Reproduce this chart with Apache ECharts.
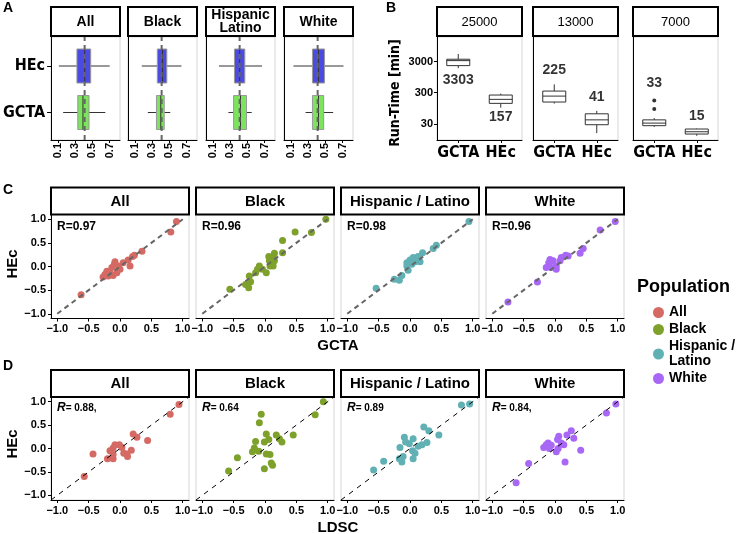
<!DOCTYPE html>
<html><head><meta charset="utf-8">
<script src="https://cdn.jsdelivr.net/npm/echarts@6/dist/echarts.min.js"></script>
<style>html,body{margin:0;padding:0;background:#fff}#main{width:737px;height:534px}</style>
</head><body><div id="main"></div>
<script>
// ---------------- DATA ----------------
const populations = ['All', 'Black', 'Hispanic / Latino', 'White'];
const stripLabelsA = ['All', 'Black', 'Hispanic\nLatino', 'White'];
const methodsA = ['GCTA', 'HEc'];
// Panel A boxplots: [min, Q1, median, Q3, max]
const gctaBoxA = [
  [0.16, 0.33, 0.39, 0.46, 0.65],
  [0.25, 0.35, 0.40, 0.44, 0.51],
  [0.28, 0.34, 0.42, 0.49, 0.55],
  [0.27, 0.35, 0.42, 0.48, 0.59]
];
const hecBoxA = [
  [0.11, 0.32, 0.41, 0.48, 0.70],
  [0.18, 0.36, 0.42, 0.47, 0.64],
  [0.17, 0.35, 0.41, 0.47, 0.67],
  [0.13, 0.35, 0.42, 0.49, 0.71]
];
const refLineA = 0.41;
const ticksA = [0.1, 0.3, 0.5, 0.7];

// Panel B: run-time in minutes [min, Q1, median, Q3, max]
const sampleSizes = ['25000', '13000', '7000'];
const methodsB = ['GCTA', 'HEc'];
const gctaRunTime = [[1840, 2230, 3230, 3580, 5300], [134, 150, 233, 338, 555], [23.8, 26, 31.5, 40, 45.6]];
const hecRunTime = [[99, 136, 183, 252, 279], [15, 27.9, 40, 62.7, 78], [12.3, 14, 16.6, 20.3, 21]];
const gctaOutliers = [[], [], [89, 167]];
const gctaMeanRT = [3303, 225, 33];
const hecMeanRT = [157, 41, 15];
const gctaMeanLabelAt = [775, 1556, 619];
const hecMeanLabelAt = [48.5, 212, 51];
const ticksB = [30, 300, 3000];
const rangeB = [9, 18600];

// Panel C: [GCTA, HEc]
const gctaVsHec = [
  [[0.90,0.95],[0.81,0.73],[0.35,0.32],[0.23,0.24],[0.20,0.21],[0.13,0.14],[0.16,0.01],[0.05,0.08],[-0.08,0.10],[-0.03,0.01],[-0.13,-0.02],[-0.21,-0.10],[-0.24,-0.17],[-0.19,-0.20],[-0.11,-0.19],[-0.05,-0.13],[-0.27,-0.22],[-0.16,-0.13],[0.00,-0.06],[-0.62,-0.60],[-0.09,0.05],[-0.20,-0.15]],
  [[0.97,1.00],[0.48,0.73],[0.74,0.72],[0.28,0.55],[0.28,0.29],[0.15,0.28],[0.13,0.21],[0.06,0.21],[0.07,0.12],[0.15,0.12],[0.08,0.01],[-0.09,0.01],[-0.12,-0.06],[-0.04,-0.06],[-0.15,-0.13],[0.02,-0.13],[0.13,0.01],[-0.25,-0.20],[-0.23,-0.32],[-0.31,-0.38],[-0.26,-0.45],[-0.56,-0.48]],
  [[0.94,0.95],[0.42,0.45],[0.37,0.38],[0.20,0.29],[0.13,0.21],[0.11,0.15],[0.05,0.19],[0.00,0.14],[-0.05,0.08],[-0.05,0.01],[0.03,0.05],[-0.03,-0.08],[-0.13,-0.19],[-0.17,-0.29],[-0.25,-0.27],[-0.54,-0.46],[0.16,0.10],[0.08,0.10]],
  [[0.96,0.95],[0.72,0.77],[0.45,0.38],[0.40,0.28],[0.21,0.22],[0.17,0.24],[0.10,0.19],[0.08,0.12],[0.02,0.01],[-0.03,0.12],[-0.08,0.15],[-0.10,0.08],[-0.14,-0.02],[-0.06,-0.02],[0.02,-0.06],[-0.28,-0.33],[-0.75,-0.75]]
];
const rGcta = ['0.97', '0.96', '0.98', '0.96'];

// Panel D: [LDSC, HEc]
const ldscVsHec = [
  [[0.94,0.94],[0.80,0.73],[0.21,0.31],[0.27,0.24],[0.44,0.17],[0.18,-0.04],[0.11,-0.12],[0.12,-0.17],[0.06,-0.10],[0.03,0.02],[-0.01,0.08],[-0.08,0.08],[-0.11,0.01],[-0.16,-0.05],[-0.11,-0.13],[-0.11,-0.22],[-0.20,-0.22],[-0.43,-0.12],[-0.57,-0.60]],
  [[0.93,1.00],[0.80,0.72],[0.45,0.29],[0.18,0.29],[0.23,0.21],[0.27,0.14],[0.02,0.31],[0.06,0.19],[-0.01,0.14],[-0.15,0.15],[-0.06,0.73],[-0.09,0.55],[-0.17,0.01],[-0.20,-0.07],[-0.10,-0.06],[0.02,-0.12],[0.08,-0.13],[0.10,-0.31],[0.12,-0.36],[-0.01,-0.43],[-0.44,-0.20],[-0.58,-0.48]],
  [[0.95,0.95],[0.82,0.93],[0.46,0.29],[0.22,0.46],[0.30,0.38],[0.27,0.13],[0.19,0.08],[0.13,0.05],[0.05,0.21],[-0.09,0.24],[-0.07,0.14],[-0.01,0.10],[-0.16,0.02],[0.04,-0.05],[0.08,-0.10],[0.05,-0.22],[-0.11,-0.17],[-0.17,-0.22],[-0.13,-0.29],[-0.42,-0.27],[-0.58,-0.46]],
  [[0.97,0.95],[0.82,0.76],[0.26,0.38],[0.19,0.29],[0.30,0.22],[0.41,-0.04],[0.16,-0.29],[0.06,0.26],[0.04,0.19],[0.10,0.12],[0.14,0.08],[0.02,-0.07],[0.05,0.00],[-0.11,0.12],[-0.14,0.08],[-0.18,0.02],[-0.09,0.00],[-0.06,0.07],[-0.42,-0.32],[-0.62,-0.73]]
];
const rLdsc = ['0.88,', '0.64', '0.89', '0.84,'];
const ticksCD = [-1, -0.5, 0, 0.5, 1];

// ---------------- STYLE / LAYOUT ----------------
const FONT = '"Liberation Sans", Arial, Helvetica, sans-serif';
const NARROW = '"DejaVu Sans Condensed", "Liberation Sans", sans-serif';
const BLUE = '#4B4BE3', GREEN = '#7BE35C';
const popColors = ['#D46A63', '#7EA12B', '#61B0B4', '#A867F4'];
const BORDER = '#d6d6d6';

const grid = [], xAxis = [], yAxis = [], series = [], graphic = [];
function addCart(g, xa, ya) {
  const i = grid.length;
  grid.push(g);
  xAxis.push(Object.assign({ gridIndex: i }, xa));
  yAxis.push(Object.assign({ gridIndex: i }, ya));
  return i;
}
const blackLine = { show: true, onZero: false, lineStyle: { color: '#000', width: 1 } };
const noSplit = { show: false };
function txt(x, y, text, size, opts) {
  opts = opts || {};
  graphic.push({
    type: 'text', x: x, y: y, rotation: opts.rotation || 0, z: 100,
    style: {
      text: text, fontSize: size, fontWeight: opts.weight || 'bold', fontFamily: opts.family || FONT,
      fill: '#000', align: opts.align || 'center', verticalAlign: opts.valign || 'middle',
      lineHeight: opts.lineHeight, rich: opts.rich
    }
  });
}
function strip(x, y, w, h, text, size, weight, lineHeight) {
  graphic.push({ type: 'rect', shape: { x: x, y: y, width: w, height: h }, style: { fill: '#fff', stroke: '#000', lineWidth: 2 }, z: 50 });
  txt(x + w / 2, y + h / 2 + 0.5, text, size, { weight: weight, lineHeight: lineHeight });
}
function boxRenderer(horizontal, boxW, boxStroke, lineStroke) {
  return function (params, api) {
    const c = api.value(0);
    const v = [1, 2, 3, 4, 5].map(k => api.value(k));
    const P = horizontal ? (val => api.coord([val, c])) : (val => api.coord([c, val]));
    const p = v.map(P);
    const half = boxW / 2;
    const fill = api.visual('color');
    const ls = { stroke: lineStroke, lineWidth: 1 };
    if (horizontal) {
      const y = p[0][1];
      return { type: 'group', children: [
        { type: 'line', shape: { x1: p[0][0], y1: y, x2: p[1][0], y2: y }, style: ls },
        { type: 'line', shape: { x1: p[3][0], y1: y, x2: p[4][0], y2: y }, style: ls },
        { type: 'rect', shape: { x: p[1][0], y: y - half, width: p[3][0] - p[1][0], height: boxW }, style: { fill: fill, stroke: boxStroke, lineWidth: 1 } },
        { type: 'line', shape: { x1: p[2][0], y1: y - half, x2: p[2][0], y2: y + half }, style: { stroke: lineStroke, lineWidth: 1 } }
      ]};
    }
    const x = p[0][0];
    return { type: 'group', children: [
      { type: 'line', shape: { x1: x, y1: p[0][1], x2: x, y2: p[1][1] }, style: ls },
      { type: 'line', shape: { x1: x, y1: p[3][1], x2: x, y2: p[4][1] }, style: ls },
      { type: 'rect', shape: { x: x - half, y: p[3][1], width: boxW, height: p[1][1] - p[3][1] }, style: { fill: fill, stroke: boxStroke, lineWidth: 1 } },
      { type: 'line', shape: { x1: x - half, y1: p[2][1], x2: x + half, y2: p[2][1] }, style: { stroke: lineStroke, lineWidth: 1 } }
    ]};
  };
}

// ---------------- PANEL A ----------------
const AX = [51, 128, 206, 284], AW = 69;
populations.forEach((pop, i) => {
  const fr = addCart(
    { left: AX[i], top: 37, width: AW, height: 103, show: true, borderColor: BORDER, borderWidth: 1 },
    { type: 'value', min: 0.02, max: 0.82, axisLine: blackLine, splitLine: noSplit,
      axisTick: { show: true, length: 3, customValues: ticksA, lineStyle: { color: '#000' } },
      axisLabel: { customValues: ticksA, rotate: 90, margin: 3, formatter: v => v.toFixed(1), fontSize: 11, fontWeight: 'bold', color: '#000', fontFamily: FONT } },
    { type: 'value', min: 0, max: 1, axisLine: blackLine, splitLine: noSplit, axisTick: { show: false }, axisLabel: { show: false } }
  );
  const d = addCart(
    { left: AX[i], top: 42.75, width: AW, height: 93 },
    { type: 'value', min: 0.02, max: 0.82, show: false },
    { type: 'category', data: methodsA, axisLine: { show: false, onZero: false },
      axisTick: { show: i === 0, alignWithLabel: true, length: 4, lineStyle: { color: '#000' } },
      axisLabel: { show: i === 0, interval: 0, fontSize: 16, fontWeight: 'bold', fontFamily: NARROW, color: '#000', margin: 6 } }
  );
  series.push({ type: 'custom', xAxisIndex: d, yAxisIndex: d, renderItem: boxRenderer(true, 34, '#999', '#333'),
    encode: { x: [1, 2, 3, 4, 5], y: 0 }, z: 2, silent: true,
    data: [{ value: [0].concat(gctaBoxA[i]), itemStyle: { color: GREEN } }, { value: [1].concat(hecBoxA[i]), itemStyle: { color: BLUE } }] });
  series.push({ type: 'line', xAxisIndex: fr, yAxisIndex: fr, data: [[refLineA, 0], [refLineA, 1]], symbol: 'none',
    lineStyle: { color: '#666', width: 2, type: [5, 4] }, z: 5, silent: true });
  strip(AX[i], 7, AW, 29, stripLabelsA[i], 14, 'bold', 13);
});

// ---------------- PANEL B ----------------
const log = Math.log10;
const BX = [437, 533, 633], BW = 85;
sampleSizes.forEach((s, i) => {
  const g = addCart(
    { left: BX[i], top: 37, width: BW, height: 103, show: true, borderColor: BORDER, borderWidth: 1 },
    { type: 'category', data: methodsB, axisLine: blackLine,
      axisTick: { show: true, alignWithLabel: true, length: 3, lineStyle: { color: '#000' } },
      axisLabel: { interval: 0, fontSize: 16, fontWeight: 'bold', fontFamily: NARROW, color: '#000', margin: 5 } },
    { type: 'value', min: log(rangeB[0]), max: log(rangeB[1]), axisLine: blackLine, splitLine: noSplit,
      axisTick: { show: i === 0, length: 3, customValues: ticksB.map(log), lineStyle: { color: '#000' } },
      axisLabel: { show: i === 0, customValues: ticksB.map(log), formatter: v => String(Math.round(Math.pow(10, v))),
        fontSize: 11, fontWeight: 'bold', color: '#000', margin: 4, fontFamily: FONT } }
  );
  series.push({ type: 'custom', xAxisIndex: g, yAxisIndex: g, renderItem: boxRenderer(false, 23, '#333', '#333'),
    encode: { x: 0, y: [1, 2, 3, 4, 5] }, z: 2, silent: true,
    data: [{ value: [0].concat(gctaRunTime[i].map(log)), itemStyle: { color: '#fff' } },
           { value: [1].concat(hecRunTime[i].map(log)), itemStyle: { color: '#fff' } }] });
  if (gctaOutliers[i].length) {
    series.push({ type: 'scatter', xAxisIndex: g, yAxisIndex: g, data: gctaOutliers[i].map(v => [0, log(v)]),
      symbolSize: 4, itemStyle: { color: '#000' }, silent: true });
  }
  series.push({ type: 'scatter', xAxisIndex: g, yAxisIndex: g, symbolSize: 1, silent: true,
    itemStyle: { color: 'rgba(0,0,0,0)' },
    label: { show: true, position: 'inside', formatter: p => p.name, fontSize: 14, fontWeight: 'bold', fontFamily: FONT, color: '#000' },
    data: [{ value: [0, log(gctaMeanLabelAt[i])], name: String(gctaMeanRT[i]) },
           { value: [1, log(hecMeanLabelAt[i])], name: String(hecMeanRT[i]) }] });
  strip(BX[i], 7, BW, 29, s, 13, 'normal');
});

// ---------------- PANELS C & D ----------------
const CX = [51, 196, 341, 486], CW = 138;
const legendNames = populations.map(p => p.replace(' / ', ' /\n'));
const fmtCD = v => (v < 0 ? '\u2212' : '') + Math.abs(v).toFixed(1);
function scatterRow(top, h, stripTop, stripH, dataSets, rLabels, lineData, lineStyle, rIsItalic) {
  populations.forEach((pop, i) => {
    const g = addCart(
      { left: CX[i], top: top, width: CW, height: h, show: true, borderColor: BORDER, borderWidth: 1 },
      { type: 'value', min: -1.1, max: 1.1, axisLine: blackLine, splitLine: noSplit,
        axisTick: { show: true, length: 3, customValues: ticksCD, lineStyle: { color: '#000' } },
        axisLabel: { customValues: ticksCD, formatter: fmtCD, fontSize: 11, fontWeight: 'bold', color: '#000', margin: 5, fontFamily: FONT } },
      { type: 'value', min: -1.1, max: 1.1, axisLine: { show: i === 0, onZero: false, lineStyle: { color: '#000' } }, splitLine: noSplit,
        axisTick: { show: i === 0, length: 3, customValues: ticksCD, lineStyle: { color: '#000' } },
        axisLabel: { show: i === 0, customValues: ticksCD, formatter: fmtCD, fontSize: 11, fontWeight: 'bold', color: '#000', margin: 5, fontFamily: FONT } }
    );
    series.push({ type: 'scatter', name: legendNames[i], xAxisIndex: g, yAxisIndex: g, data: dataSets[i],
      symbolSize: 7, itemStyle: { color: popColors[i], opacity: 1 }, z: 3, silent: true });
    series.push({ type: 'line', name: 'identity', xAxisIndex: g, yAxisIndex: g, data: lineData, symbol: 'none',
      lineStyle: lineStyle, z: 4, silent: true });
    strip(CX[i], stripTop, CW, stripH, pop, 15, 'bold');
    if (rIsItalic) {
      txt(CX[i] + 6, top + 11, '{i|R}{n|= ' + rLabels[i] + '}', 12, { align: 'left',
        rich: { i: { fontStyle: 'italic', fontWeight: 'bold', fontSize: 12, fontFamily: FONT }, n: { fontWeight: 'bold', fontSize: 10, fontFamily: FONT } } });
    } else {
      txt(CX[i] + 6, top + 12, 'R=' + rLabels[i], 12, { align: 'left' });
    }
  });
}
scatterRow(214.5, 104, 187.5, 27, gctaVsHec, rGcta, [[-1, -1], [1, 1]], { color: '#666', width: 2, type: [5, 4] }, false);
scatterRow(397, 103, 370, 27, ldscVsHec, rLdsc, [[-1.1, -1.1], [1.1, 1.1]], { color: '#000', width: 1, type: [5, 5] }, true);

// ---------------- TITLES ----------------
txt(3, 1, 'A', 14, { align: 'left', valign: 'top' });
txt(386, 1, 'B', 14, { align: 'left', valign: 'top' });
txt(3, 183, 'C', 14, { align: 'left', valign: 'top' });
txt(3, 359, 'D', 14, { align: 'left', valign: 'top' });
txt(395, 93, 'Run-Time [min]', 14, { rotation: Math.PI / 2, family: NARROW });
txt(13, 264, 'HEc', 15, { rotation: Math.PI / 2 });
txt(13, 444, 'HEc', 15, { rotation: Math.PI / 2 });
txt(338, 346, 'GCTA', 15);
txt(338, 527.5, 'LDSC', 15);
txt(637, 287, 'Population', 18, { align: 'left' });

const chart = echarts.init(document.getElementById('main'), null, { renderer: 'canvas' });
chart.setOption({
  backgroundColor: '#fff',
  animation: false,
  textStyle: { fontFamily: FONT },
  grid: grid, xAxis: xAxis, yAxis: yAxis, series: series, graphic: graphic,
  legend: {
    data: legendNames, orient: 'vertical', left: 648, top: 300, icon: 'circle',
    itemWidth: 11, itemHeight: 11, itemGap: 2, selectedMode: false,
    textStyle: { fontSize: 14, fontWeight: 'bold', color: '#000', fontFamily: FONT, lineHeight: 15 }
  }
});
</script></body></html>
